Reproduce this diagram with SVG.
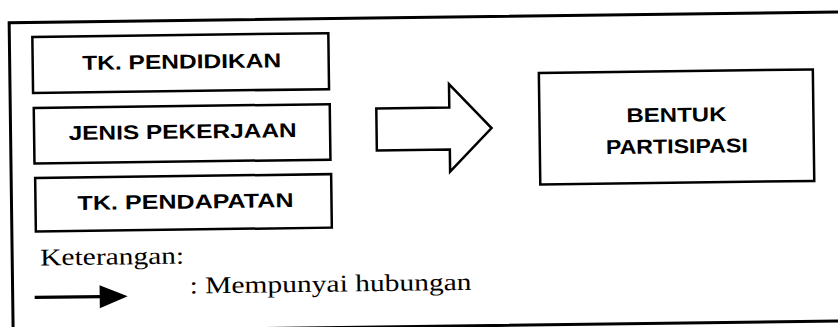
<svg xmlns="http://www.w3.org/2000/svg" width="838" height="327" viewBox="0 0 838 327">
<style>
.box{fill:#fff;stroke:#000;stroke-width:2.5}
.lbl{font-family:"Liberation Sans",Arial,sans-serif;font-weight:bold;font-size:20px;fill:#000;text-anchor:middle}
.ser{font-family:"Liberation Serif","Times New Roman",serif;font-size:24px;fill:#000}
.conn{fill:#fff;stroke:#000;stroke-width:2.5;stroke-linejoin:miter}
</style>
<rect width="838" height="327" fill="#fff"/>
<g transform="rotate(-0.74 419 163)">
<rect id="frame" x="11" y="17.5" width="845" height="309" fill="none" stroke="#000" stroke-width="3"/>
<g id="tk-pendidikan">
<rect class="box" x="34" y="32" width="296" height="56"/>
<text class="lbl" x="183" y="65.5" textLength="199" lengthAdjust="spacingAndGlyphs">TK. PENDIDIKAN</text>
</g>
<g id="jenis-pekerjaan">
<rect class="box" x="34.5" y="103" width="296" height="55.5"/>
<text class="lbl" x="183" y="135.5" textLength="228" lengthAdjust="spacingAndGlyphs">JENIS PEKERJAAN</text>
</g>
<g id="tk-pendapatan">
<rect class="box" x="35" y="173" width="296" height="53.5"/>
<text class="lbl" x="185" y="205.5" textLength="216" lengthAdjust="spacingAndGlyphs">TK. PENDAPATAN</text>
</g>
<g id="bentuk-partisipasi">
<rect class="box" x="540" y="74.5" width="274" height="111.5"/>
<text class="lbl" x="677" y="125" textLength="100" lengthAdjust="spacingAndGlyphs">BENTUK</text>
<text class="lbl" x="677" y="156.5" textLength="142" lengthAdjust="spacingAndGlyphs">PARTISIPASI</text>
</g>
<g id="connectors">
<path class="conn" d="M377,108 L450,108 L450,84.5 L492,129 L450,172 L450,150 L377,150 Z"/>
</g>
<g id="legend">
<text class="ser" x="39" y="260.5" textLength="144" lengthAdjust="spacingAndGlyphs">Keterangan:</text>
<line x1="33" y1="292.5" x2="100" y2="292.5" stroke="#000" stroke-width="3.2"/>
<polygon points="98,281 126,292.5 98,304" fill="#000"/>
<text class="ser" x="188" y="290.5" textLength="282" lengthAdjust="spacingAndGlyphs">: Mempunyai hubungan</text>
</g>
</g>
</svg>
